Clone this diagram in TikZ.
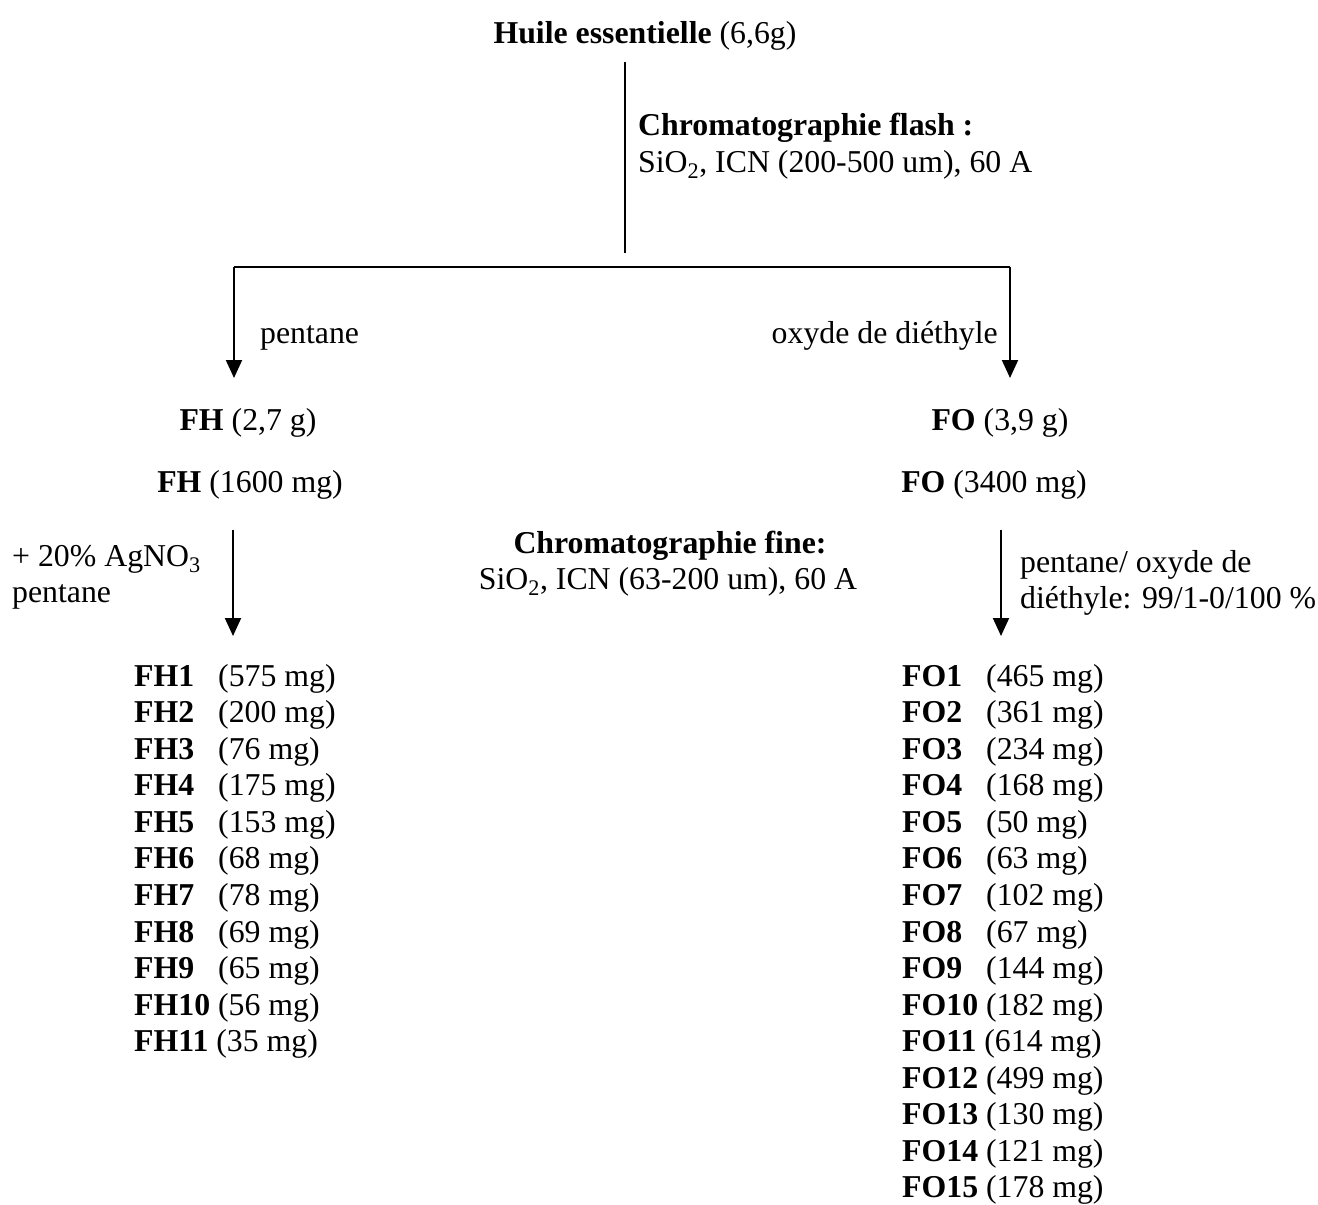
\documentclass[tikz,border=0pt]{standalone}
\usepackage{fontspec}
\setmainfont{Liberation Serif}
\usetikzlibrary{arrows.meta}
\begin{document}
\begin{tikzpicture}[x=1pt,y=-1pt,
  txt/.style={inner sep=0pt, font=\fontsize{31.8}{36.57}\selectfont},
  conn/.style={line width=2pt},
  arr/.style={conn,-{Triangle[width=16pt,length=18pt]}}]
\useasboundingbox (0,0) rectangle (1318,1205);
% top
\node[txt,anchor=base] (huile) at (645,43) {\textbf{Huile essentielle} (6,6g)};
\node[txt,anchor=base west] (flash1) at (638,135) {\textbf{Chromatographie flash :}};
\node[txt,anchor=base west] (flash2) at (638,172) {SiO\textsubscript{2}, ICN (200-500 um), 60 A};
% connectors top
\coordinate (topA) at (625,62);
\coordinate (topB) at (625,253);
\coordinate (hl) at (234,267);
\coordinate (hr) at (1010,267);
\coordinate (tipL) at (234,378);
\coordinate (tipR) at (1010,378);
\draw[conn] (topA) -- (topB);
\draw[conn] (hl) -- (hr);
\draw[arr] (hl) -- (tipL);
\draw[arr] (hr) -- (tipR);
\node[txt,anchor=base west] (pent) at (260,343) {pentane};
\node[txt,anchor=base east] (oxy) at (998,343) {oxyde de diéthyle};
% fractions
\node[txt,anchor=base] (fha) at (248,430) {\textbf{FH} (2,7 g)};
\node[txt,anchor=base] (foa) at (1000,430) {\textbf{FO} (3,9 g)};
\node[txt,anchor=base] (fhb) at (250,492) {\textbf{FH} (1600 mg)};
\node[txt,anchor=base] (fob) at (994,492) {\textbf{FO} (3400 mg)};
% middle labels
\node[txt,anchor=base west] (ag1) at (12,566) {+ 20\% AgNO\textsubscript{3}};
\node[txt,anchor=base west] (ag2) at (12,602) {pentane};
\node[txt,anchor=base] (fine1) at (670,553) {\textbf{Chromatographie fine:}};
\node[txt,anchor=base] (fine2) at (668,589) {SiO\textsubscript{2}, ICN (63-200 um), 60 A};
\node[txt,anchor=base west] (el1) at (1020,572) {pentane/ oxyde de};
\node[txt,anchor=base west] (el2) at (1020,608) {diéthyle: 99/1-0/100 \%};
\coordinate (sL) at (233,530);
\coordinate (eL) at (233,636);
\coordinate (sR) at (1001,530);
\coordinate (eR) at (1001,636);
\draw[arr] (sL) -- (eL);
\draw[arr] (sR) -- (eR);
% FH list
\foreach \n/\v [count=\i from 0] in {1/575,2/200,3/76,4/175,5/153,6/68,7/78,8/69,9/65}
  \node[txt,anchor=base west] (fh\n) at (134,{686+\i*36.57}) {\makebox[84pt][l]{\textbf{FH\n}}(\v{} mg)};
\node[txt,anchor=base west] (fh10) at (134,{686+9*36.57}) {\textbf{FH10} (56 mg)};
\node[txt,anchor=base west] (fh11) at (134,{686+10*36.57}) {\textbf{FH11} (35 mg)};
% FO list
\foreach \n/\v [count=\i from 0] in {1/465,2/361,3/234,4/168,5/50,6/63,7/102,8/67,9/144}
  \node[txt,anchor=base west] (fo\n) at (902,{686+\i*36.57}) {\makebox[84pt][l]{\textbf{FO\n}}(\v{} mg)};
\foreach \n/\v [count=\i from 9] in {10/182,11/614,12/499,13/130,14/121,15/178}
  \node[txt,anchor=base west] (fo\n) at (902,{686+\i*36.57}) {\textbf{FO\n} (\v{} mg)};
\end{tikzpicture}
\end{document}
